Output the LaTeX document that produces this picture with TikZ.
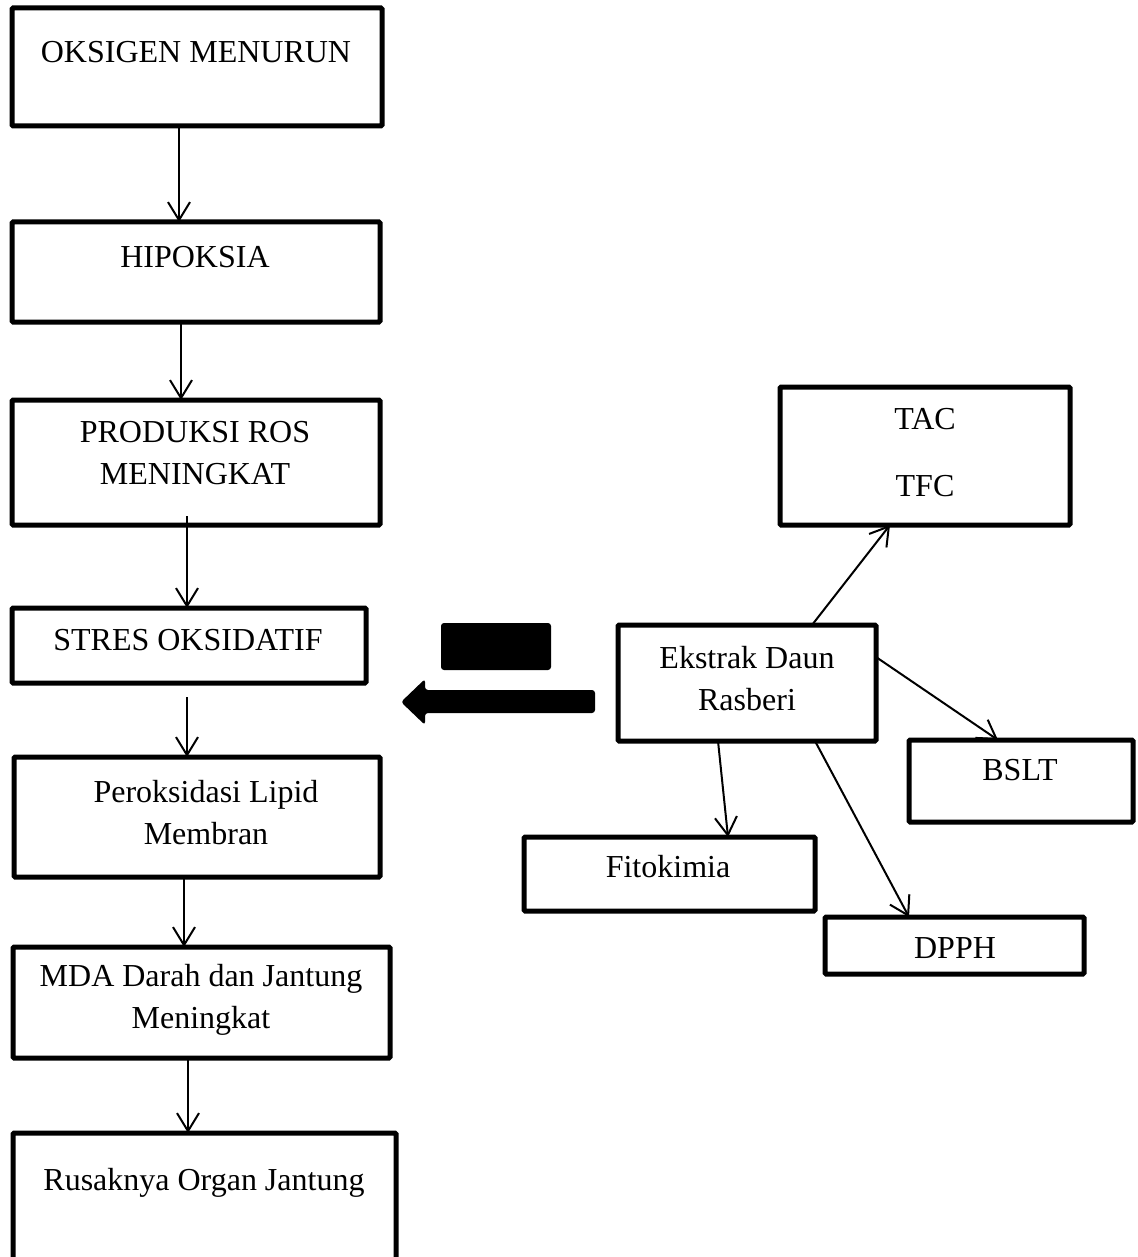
\documentclass[tikz,border=0pt]{standalone}
\usepackage{fontspec}
\setmainfont{Liberation Serif}
\usetikzlibrary{arrows.meta,fit}
\tikzset{
  box/.style={draw=black, line width=2.5pt, rounded corners=0.6pt, inner sep=0pt, outer sep=0pt},
  txt/.style={inner sep=0pt, align=center, font=\fontsize{16pt}{21pt}\selectfont},
  arr/.style={line width=1pt, -{Straight Barb[length=9pt,width=11pt,line width=1pt]}},
}
\newcommand{\mkbox}[5]{\path (#2,#3) coordinate (#1-nw) (#4,#5) coordinate (#1-se);
  \node[box, fit=(#1-nw)(#1-se)] (#1) {};}
\begin{document}
\begin{tikzpicture}[x=0.5pt, y=-0.5pt]
\useasboundingbox (0,0) rectangle (1137,1257);
\clip (0,0) rectangle (1137,1257);
% boxes
\mkbox{b1}{12}{8}{382}{126}
\mkbox{b2}{12}{222}{380}{322}
\mkbox{b3}{12}{400}{380}{525}
\mkbox{b4}{12}{608}{366}{683}
\mkbox{b5}{14}{757}{380}{877}
\mkbox{b6}{13}{947}{390}{1058}
\mkbox{b7}{13}{1133}{396}{1285}
\mkbox{tac}{780}{387}{1070}{525}
\mkbox{ek}{618}{625}{876}{741}
\mkbox{bslt}{909}{740}{1133}{822}
\mkbox{fito}{524}{837}{815}{911}
\mkbox{dpph}{825}{917}{1084}{974}
% texts
\node[txt] (t1) at (196,52) {OKSIGEN MENURUN};
\node[txt] (t2) at (195,257) {HIPOKSIA};
\node[txt] (t3) at (195,453) {PRODUKSI ROS\\MENINGKAT};
\node[txt] (t4) at (188,640) {STRES OKSIDATIF};
\node[txt] (t5) at (206,813) {Peroksidasi Lipid\\Membran};
\node[txt] (t6) at (201,1000) {MDA Darah dan Jantung\\Meningkat};
\node[txt] (t7) at (204,1183) {Rusaknya Organ Jantung};
\node[txt, font=\fontsize{16pt}{33.5pt}\selectfont] (ttac) at (925,453) {TAC\\TFC};
\node[txt] (tek) at (747,679) {Ekstrak Daun\\Rasberi};
\node[txt] (tbslt) at (1020,770) {BSLT};
\node[txt] (tfito) at (668,867) {Fitokimia};
\node[txt] (tdpph) at (955,948) {DPPH};
% vertical arrows
\draw[arr] (b1.south -| 179,0) -- (b2.north -| 179,0);
\draw[arr] (b2.south -| 181,0) -- (b3.north -| 181,0);
\coordinate (s3) at (187,516);
\draw[arr] (s3) -- (b4.north -| 187,0);
\coordinate (s4) at (187,697);
\draw[arr] (s4) -- (b5.north -| 187,0);
\draw[arr] (b5.south -| 184,0) -- (b6.north -| 184,0);
\draw[arr] (b6.south -| 188,0) -- (b7.north -| 188,0);
% extract arrows
\draw[arr] (ek.north -| 812,0) -- (tac.south -| 890,0);
\draw[arr] (ek.east |- 0,657) -- (bslt.north -| 998,0);
\draw[arr] (ek.south -| 718,0) -- (fito.north -| 728,0);
\draw[arr] (ek.south -| 815,0) -- (dpph.north -| 909,0);
% black block and thick arrow
\node[fill=black, rounded corners=1.5pt, inner sep=0pt, minimum width=55pt, minimum height=23.5pt] (blk) at (496,646.5) {};
\fill[black, rounded corners=1.5pt] (401,702) -- (425,679) -- (425,690) -- (595,690) -- (595,713) -- (425,713) -- (425,725) -- cycle;
\end{tikzpicture}
\end{document}
